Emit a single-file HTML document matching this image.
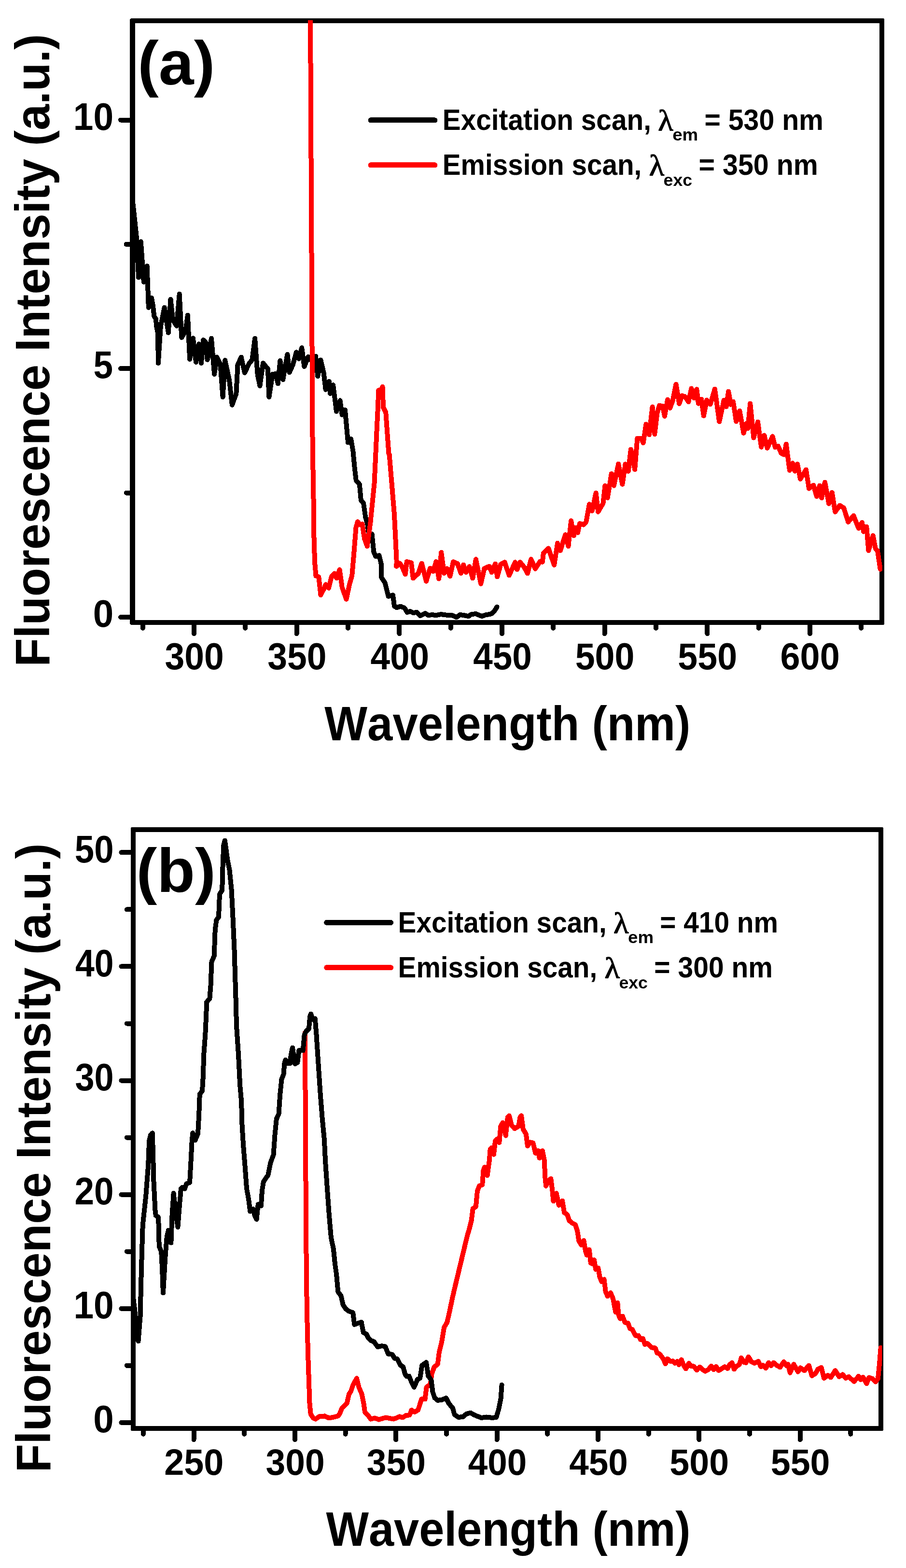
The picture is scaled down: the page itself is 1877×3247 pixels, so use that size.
<!DOCTYPE html>
<html lang="en"><head><meta charset="utf-8"><title>Fluorescence excitation and emission spectra</title>
<style>
html,body{margin:0;padding:0;background:#fff;}
body{width:1877px;height:3247px;overflow:hidden;}
svg{display:block;}
svg text{font-family:"Liberation Sans",sans-serif;font-weight:bold;fill:#000;font-kerning:none;white-space:pre;}
</style></head><body>
<svg width="1877" height="3247" viewBox="0 0 1877 3247">
<rect width="1877" height="3247" fill="#fff"/>
<path d="M271.85 37.75H1829.95L1832.45 40.25V1291.75L1829.95 1294.25H271.85L269.35 1291.75V40.25ZM279.85 48.25V1283.75H1821.95V48.25Z" fill="#000" fill-rule="evenodd" shape-rendering="crispEdges"/>
<g stroke="#000" stroke-width="10" stroke-linecap="round" shape-rendering="crispEdges">
<line x1="402.0" y1="1289" x2="402.0" y2="1312.2"/>
<line x1="614.7" y1="1289" x2="614.7" y2="1312.2"/>
<line x1="827.3" y1="1289" x2="827.3" y2="1312.2"/>
<line x1="1040.0" y1="1289" x2="1040.0" y2="1312.2"/>
<line x1="1252.7" y1="1289" x2="1252.7" y2="1312.2"/>
<line x1="1465.3" y1="1289" x2="1465.3" y2="1312.2"/>
<line x1="1678.0" y1="1289" x2="1678.0" y2="1312.2"/>
<line x1="295.7" y1="1289" x2="295.7" y2="1300.7"/>
<line x1="508.3" y1="1289" x2="508.3" y2="1300.7"/>
<line x1="721.0" y1="1289" x2="721.0" y2="1300.7"/>
<line x1="933.7" y1="1289" x2="933.7" y2="1300.7"/>
<line x1="1146.3" y1="1289" x2="1146.3" y2="1300.7"/>
<line x1="1359.0" y1="1289" x2="1359.0" y2="1300.7"/>
<line x1="1571.7" y1="1289" x2="1571.7" y2="1300.7"/>
<line x1="1784.3" y1="1289" x2="1784.3" y2="1300.7"/>
<line x1="274.6" y1="1278.0" x2="250.1" y2="1278.0"/>
<line x1="274.6" y1="763.2" x2="250.1" y2="763.2"/>
<line x1="274.6" y1="248.5" x2="250.1" y2="248.5"/>
<line x1="274.6" y1="1020.6" x2="261.6" y2="1020.6"/>
<line x1="274.6" y1="505.9" x2="261.6" y2="505.9"/>
</g>
<clipPath id="clipa"><rect x="274.6" y="41.8" width="1553.2" height="1248.2"/></clipPath>
<g clip-path="url(#clipa)" fill="none" stroke-linejoin="round" stroke-linecap="round" shape-rendering="crispEdges">
<polyline points="274.3,410.3 282.8,490.6 287.1,574.6 291.8,500.3 297.8,583.9 304.6,550.7 307.8,636.8 314.0,617.0 316.9,632.7 319.4,655.3 323.1,660.5 323.9,673.9 326.6,688.3 327.4,714.4 327.8,752.1 332.9,675.3 340.6,636.6 348.8,688.9 353.5,619.7 358.3,663.0 365.9,674.9 371.7,608.8 376.2,699.0 384.4,685.6 388.9,652.7 393.1,743.9 399.9,700.4 406.0,750.0 412.2,712.4 417.0,752.1 421.1,704.1 425.6,708.2 429.7,744.9 438.0,700.8 444.1,774.8 449.3,739.5 456.5,754.0 461.6,822.1 466.2,746.1 475.0,786.5 480.8,838.6 489.4,815.3 492.5,755.6 499.7,739.5 506.9,772.1 516.2,752.5 522.4,745.3 528.1,700.8 533.7,776.2 538.4,799.1 545.0,751.9 554.9,763.8 557.4,822.1 564.6,775.0 570.8,774.1 575.9,794.3 580.4,746.8 586.2,786.1 595.4,733.7 599.6,771.4 606.8,755.3 614.0,729.4 619.1,743.0 625.3,720.3 630.4,759.0 638.7,738.8 645.9,747.1 654.1,737.6 658.2,779.2 664.4,745.4 670.6,771.8 674.7,806.8 681.9,789.7 684.0,815.0 690.2,797.3 697.0,852.1 704.6,829.4 708.7,858.9 714.9,848.8 718.4,887.1 721.0,916.5 727.2,909.1 731.5,935.0 734.6,967.9 737.7,994.7 744.9,1003.0 747.9,1035.9 753.1,1042.1 757.2,1070.9 761.3,1085.3 764.4,1108.0 770.6,1105.9 774.3,1143.0 778.4,1152.2 785.4,1150.2 790.2,1169.7 790.3,1195.9 797.5,1206.6 804.7,1235.0 814.0,1232.3 817.1,1255.6 822.2,1258.3 829.4,1255.6 837.7,1258.7 843.8,1268.0 850.0,1265.9 856.2,1269.0 863.4,1268.0 870.6,1275.2 880.9,1270.0 887.1,1274.1 895.3,1273.1 903.5,1274.1 913.8,1272.1 928.2,1274.1 936.5,1274.1 945.8,1278.3 953.0,1273.1 961.2,1274.1 970.5,1276.2 976.6,1272.1 985.9,1271.1 998.3,1276.2 1006.5,1273.1 1014.7,1272.1 1019.9,1270.0 1026.1,1262.8 1029.6,1256.6" stroke="#000" stroke-width="10.0"/>
<polyline points="643.0,30.0 646.1,640.0 647.7,940.0 649.2,1000.0 650.2,1103.0 652.1,1164.7 654.5,1192.5 660.3,1194.6 664.4,1232.3 671.6,1218.3 674.7,1210.4 680.9,1217.8 687.1,1193.5 692.8,1187.4 697.4,1197.3 703.5,1179.5 708.7,1216.2 717.5,1240.9 724.1,1210.0 729.3,1191.5 733.4,1144.1 737.5,1092.7 741.0,1080.3 745.8,1086.5 750.5,1085.2 755.0,1115.3 760.8,1131.4 767.4,1082.4 775.6,1000.0 780.8,887.1 782.8,845.9 784.3,808.2 788.4,810.9 792.5,800.6 794.1,843.8 799.3,854.1 802.4,897.4 805.5,940.0 806.6,941.2 811.8,1003.0 816.9,1064.7 820.0,1126.5 821.7,1163.6 821.2,1172.8 828.4,1166.5 833.9,1175.3 839.7,1189.3 842.8,1163.0 852.1,1165.4 855.8,1197.5 866.5,1187.7 873.7,1166.5 883.0,1203.7 891.2,1176.7 897.4,1183.5 903.5,1163.0 909.3,1198.6 914.2,1143.8 920.0,1187.2 926.2,1177.4 932.4,1193.4 939.0,1163.4 947.8,1167.1 955.0,1187.2 960.2,1169.5 965.3,1185.2 972.5,1173.2 979.3,1197.5 985.9,1158.2 996.2,1208.9 1003.4,1177.4 1013.7,1172.6 1018.8,1185.2 1026.1,1167.5 1030.2,1194.5 1037.4,1168.5 1045.6,1164.4 1054.9,1191.4 1067.2,1164.3 1071.3,1179.3 1077.5,1164.3 1085.7,1174.1 1092.9,1187.5 1100.2,1158.1 1109.0,1177.8 1118.7,1162.8 1123.8,1163.8 1125.9,1145.3 1136.2,1135.4 1148.1,1170.0 1155.1,1124.7 1160.9,1140.2 1171.2,1107.2 1177.4,1131.3 1183.1,1078.4 1188.7,1109.3 1192.8,1092.8 1196.9,1103.1 1201.0,1084.0 1209.3,1086.6 1214.4,1080.5 1221.0,1044.0 1226.8,1057.8 1234.6,1020.7 1239.1,1059.9 1249.4,1042.4 1253.5,1005.7 1258.7,1031.0 1266.8,980.9 1271.9,1005.6 1281.2,960.7 1289.4,1002.7 1295.6,961.3 1301.8,975.8 1306.9,930.5 1315.2,972.3 1320.3,907.8 1328.5,907.8 1332.7,917.1 1338.4,878.4 1345.0,900.2 1351.6,842.5 1356.3,899.0 1361.5,855.3 1366.0,839.9 1372.8,840.9 1376.9,861.9 1383.1,827.5 1388.2,845.0 1393.4,830.6 1400.6,795.6 1407.2,836.2 1413.0,819.3 1419.1,821.3 1426.3,832.2 1432.5,804.4 1438.1,824.4 1443.4,806.3 1446.9,835.7 1453.1,826.5 1457.8,861.1 1464.4,828.5 1471.6,837.2 1480.9,805.5 1490.2,873.2 1499.8,828.5 1504.6,842.5 1509.3,810.6 1513.9,837.8 1519.0,831.6 1525.2,872.8 1532.4,850.8 1540.6,897.0 1546.3,876.8 1549.4,887.1 1554.2,835.6 1561.4,906.6 1570.0,873.7 1577.2,925.8 1583.4,901.5 1589.6,927.8 1600.5,903.5 1606.0,926.2 1612.2,924.1 1618.4,938.5 1624.6,941.6 1628.7,919.6 1635.9,974.0 1642.1,959.1 1646.6,975.6 1652.0,960.8 1658.1,992.1 1669.9,972.5 1676.0,1011.6 1685.3,1004.8 1691.9,1028.1 1698.1,1005.5 1702.2,1031.2 1709.0,998.7 1717.2,1043.1 1723.8,1019.9 1730.2,1060.0 1739.9,1046.6 1748.1,1051.8 1757.2,1080.9 1768.5,1067.9 1778.8,1094.1 1786.0,1081.9 1789.1,1100.9 1795.3,1090.6 1799.4,1140.0 1808.6,1109.1 1813.8,1135.9 1817.9,1140.0 1823.7,1178.7" stroke="#f00" stroke-width="10.0"/>
</g>
<text transform="translate(341.57 1386.20) scale(0.9511 1.0199)" font-size="77">300</text>
<text transform="translate(554.23 1386.20) scale(0.9511 1.0199)" font-size="77">350</text>
<text transform="translate(767.48 1386.20) scale(0.9465 1.0199)" font-size="77">400</text>
<text transform="translate(980.14 1386.20) scale(0.9465 1.0199)" font-size="77">450</text>
<text transform="translate(1191.65 1386.20) scale(0.9557 1.0199)" font-size="77">500</text>
<text transform="translate(1404.31 1386.20) scale(0.9557 1.0199)" font-size="77">550</text>
<text transform="translate(1616.54 1386.20) scale(0.9592 1.0199)" font-size="77">600</text>
<text transform="translate(192.68 1298.20) scale(0.9913 1.0272)" font-size="77">0</text>
<text transform="translate(193.46 783.45) scale(0.9475 1.0272)" font-size="77">5</text>
<text transform="translate(151.78 268.70) scale(0.9724 1.0272)" font-size="77">10</text>
<text transform="translate(672.31 1533.10) scale(0.9603 1.0200)" font-size="98">Wavelength (nm)</text>
<text transform="translate(102.10 1380.69) rotate(-90) scale(0.9903 1.0200)" font-size="98">Fluorescence Intensity (a.u.)</text>
<text transform="translate(285.28 175.00) scale(1.0224 1.0000)" font-size="128">(a)</text>
<text transform="translate(916.80 269.00) scale(0.9461 1.0200)" font-size="60">Excitation scan,</text>
<text transform="translate(1363.28 270.00) scale(1.0673 1.0000)" font-size="61" style="font-family:'Liberation Serif', serif;font-weight:normal;stroke:#000;stroke-width:1.3px;stroke-linejoin:round">λ</text>
<text transform="translate(1393.16 291.00) scale(1.0809 1.0200)" font-size="34">em</text>
<text transform="translate(1459.42 269.00) scale(0.9541 1.0200)" font-size="60">= 530 nm</text>
<text transform="translate(916.81 362.00) scale(0.9445 1.0200)" font-size="60">Emission scan,</text>
<text transform="translate(1344.78 363.00) scale(1.0673 1.0000)" font-size="61" style="font-family:'Liberation Serif', serif;font-weight:normal;stroke:#000;stroke-width:1.3px;stroke-linejoin:round">λ</text>
<text transform="translate(1374.61 384.50) scale(1.0496 1.0200)" font-size="34">exc</text>
<text transform="translate(1447.52 362.00) scale(0.9573 1.0200)" font-size="60">= 350 nm</text>
<line x1="768.1" y1="248.9" x2="900.9" y2="248.9" stroke="#000" stroke-width="11" stroke-linecap="round" shape-rendering="crispEdges"/>
<line x1="768.1" y1="341.8" x2="900.9" y2="341.8" stroke="#f00" stroke-width="11" stroke-linecap="round" shape-rendering="crispEdges"/>
<path d="M273.15 1712.75H1827.85L1830.35 1715.25V2960.75L1827.85 2963.25H273.15L270.65 2960.75V1715.25ZM281.15 1723.25V2952.75H1819.85V1723.25Z" fill="#000" fill-rule="evenodd" shape-rendering="crispEdges"/>
<g stroke="#000" stroke-width="10" stroke-linecap="round" shape-rendering="crispEdges">
<line x1="401.5" y1="2958" x2="401.5" y2="2981.2"/>
<line x1="610.9" y1="2958" x2="610.9" y2="2981.2"/>
<line x1="820.2" y1="2958" x2="820.2" y2="2981.2"/>
<line x1="1029.6" y1="2958" x2="1029.6" y2="2981.2"/>
<line x1="1239.0" y1="2958" x2="1239.0" y2="2981.2"/>
<line x1="1448.4" y1="2958" x2="1448.4" y2="2981.2"/>
<line x1="1657.8" y1="2958" x2="1657.8" y2="2981.2"/>
<line x1="296.8" y1="2958" x2="296.8" y2="2969.7"/>
<line x1="506.2" y1="2958" x2="506.2" y2="2969.7"/>
<line x1="715.6" y1="2958" x2="715.6" y2="2969.7"/>
<line x1="924.9" y1="2958" x2="924.9" y2="2969.7"/>
<line x1="1134.3" y1="2958" x2="1134.3" y2="2969.7"/>
<line x1="1343.7" y1="2958" x2="1343.7" y2="2969.7"/>
<line x1="1553.1" y1="2958" x2="1553.1" y2="2969.7"/>
<line x1="1762.4" y1="2958" x2="1762.4" y2="2969.7"/>
<line x1="275.9" y1="2945.8" x2="251.4" y2="2945.8"/>
<line x1="275.9" y1="2709.7" x2="251.4" y2="2709.7"/>
<line x1="275.9" y1="2473.6" x2="251.4" y2="2473.6"/>
<line x1="275.9" y1="2237.5" x2="251.4" y2="2237.5"/>
<line x1="275.9" y1="2001.4" x2="251.4" y2="2001.4"/>
<line x1="275.9" y1="1765.3" x2="251.4" y2="1765.3"/>
<line x1="275.9" y1="2827.8" x2="262.9" y2="2827.8"/>
<line x1="275.9" y1="2591.7" x2="262.9" y2="2591.7"/>
<line x1="275.9" y1="2355.6" x2="262.9" y2="2355.6"/>
<line x1="275.9" y1="2119.5" x2="262.9" y2="2119.5"/>
<line x1="275.9" y1="1883.4" x2="262.9" y2="1883.4"/>
</g>
<clipPath id="clipb"><rect x="275.9" y="1717" width="1551.5" height="1242.0"/></clipPath>
<g clip-path="url(#clipb)" fill="none" stroke-linejoin="round" stroke-linecap="round" shape-rendering="crispEdges">
<polyline points="632.1,2138.0 632.8,2340.0 634.8,2640.0 636.1,2722.4 638.1,2804.7 640.2,2866.5 641.6,2907.7 643.7,2928.3 648.8,2936.5 654.0,2938.6 661.2,2933.4 672.5,2932.4 681.8,2936.5 692.1,2934.4 700.3,2932.4 704.4,2926.2 708.5,2915.9 718.8,2905.6 723.0,2887.1 727.1,2880.9 731.2,2868.6 739.0,2854.1 743.5,2872.7 749.7,2887.1 753.8,2907.7 755.9,2924.1 762.1,2930.3 768.2,2938.6 776.5,2936.5 784.7,2939.6 799.1,2935.5 815.6,2938.6 828.0,2933.4 834.1,2935.5 840.3,2931.4 848.6,2930.3 852.7,2920.0 858.8,2924.1 866.1,2920.0 873.3,2897.4 880.5,2897.4 883.6,2872.7 891.8,2866.5 894.4,2845.3 899.6,2830.9 906.8,2824.7 909.9,2800.0 915.0,2779.4 920.2,2748.5 926.3,2738.2 931.5,2715.6 936.6,2690.9 941.8,2668.2 967.8,2560.0 972.5,2544.1 976.6,2527.7 979.7,2503.0 985.9,2498.8 989.0,2465.9 993.1,2455.6 999.3,2453.5 1001.3,2424.7 1004.0,2416.9 1009.6,2434.0 1013.7,2404.1 1015.7,2379.4 1018.4,2377.0 1023.0,2390.7 1026.0,2363.0 1030.2,2358.4 1034.3,2366.0 1037.4,2332.1 1041.5,2324.9 1047.7,2351.6 1051.8,2313.5 1054.9,2310.4 1060.0,2330.0 1066.2,2337.2 1074.4,2332.1 1077.5,2313.5 1080.2,2310.4 1083.7,2338.2 1089.9,2348.5 1093.0,2373.2 1098.1,2365.4 1104.3,2366.7 1109.4,2387.7 1114.6,2382.5 1117.7,2398.0 1123.8,2382.9 1128.0,2404.1 1129.0,2435.0 1131.1,2456.0 1136.2,2445.3 1141.3,2440.8 1144.4,2465.9 1146.5,2487.5 1152.7,2471.1 1157.8,2495.8 1165.0,2486.5 1169.1,2511.2 1175.3,2515.3 1179.4,2527.7 1185.6,2532.8 1191.8,2535.9 1195.9,2548.3 1197.9,2559.9 1199.1,2569.0 1204.3,2578.2 1209.4,2569.0 1213.1,2590.6 1215.6,2598.8 1220.7,2587.5 1223.8,2615.3 1227.9,2617.4 1231.0,2609.1 1234.1,2628.7 1239.3,2625.6 1242.4,2644.1 1246.5,2654.4 1251.6,2649.3 1254.7,2675.0 1258.8,2684.3 1265.0,2677.1 1270.2,2689.4 1273.2,2705.9 1275.3,2717.2 1279.4,2697.7 1281.5,2722.4 1284.6,2730.6 1289.7,2725.5 1294.9,2738.8 1301.0,2739.9 1305.2,2751.2 1310.3,2753.3 1316.5,2765.6 1322.7,2765.6 1326.8,2773.9 1331.9,2771.8 1336.0,2784.1 1341.2,2782.1 1349.4,2790.3 1356.6,2791.4 1358.1,2792.2 1361.2,2801.5 1366.3,2803.5 1373.5,2812.8 1378.7,2824.1 1382.8,2813.8 1389.0,2819.0 1394.1,2818.4 1398.2,2823.1 1403.4,2819.0 1406.5,2826.2 1411.6,2815.5 1416.8,2828.2 1420.9,2834.4 1427.1,2823.1 1432.2,2829.3 1437.4,2829.3 1443.5,2837.5 1449.7,2830.7 1454.9,2835.5 1461.0,2839.6 1467.2,2836.5 1473.4,2828.7 1478.5,2836.5 1483.7,2829.9 1488.8,2838.1 1495.0,2834.4 1501.2,2830.3 1507.4,2834.0 1511.5,2826.2 1516.6,2821.7 1520.8,2835.5 1525.9,2829.3 1532.1,2825.2 1535.8,2811.8 1541.3,2821.0 1545.5,2822.1 1550.6,2809.7 1556.8,2820.0 1563.0,2823.1 1571.2,2819.0 1576.3,2830.3 1580.5,2827.2 1586.6,2833.4 1592.4,2821.7 1597.6,2828.2 1602.7,2821.7 1608.9,2827.2 1616.1,2831.3 1623.9,2820.0 1629.5,2828.2 1632.6,2825.2 1636.7,2842.7 1644.5,2825.2 1653.2,2840.6 1658.3,2832.4 1666.6,2838.5 1670.7,2833.4 1675.8,2827.8 1682.0,2848.8 1689.2,2844.7 1694.4,2835.5 1701.6,2832.0 1707.1,2854.0 1715.0,2847.8 1721.1,2852.5 1730.4,2838.1 1738.6,2850.9 1745.8,2846.4 1752.0,2854.0 1758.2,2850.9 1769.5,2860.8 1778.8,2849.9 1782.9,2857.1 1788.1,2851.9 1795.3,2865.3 1800.4,2852.5 1807.6,2855.0 1813.8,2861.6 1818.9,2855.0 1822.0,2824.1 1824.7,2790.6" stroke="#f00" stroke-width="10.0"/>
<polyline points="275.8,2684.1 286.5,2777.4 290.6,2725.3 292.0,2663.5 293.7,2601.8 295.7,2537.4 302.3,2475.6 307.1,2413.8 309.1,2362.4 312.2,2350.0 315.7,2346.3 316.9,2383.0 318.4,2444.7 321.5,2506.5 322.7,2516.8 327.7,2519.9 328.9,2540.1 329.7,2581.2 334.2,2591.5 336.3,2632.7 337.9,2677.5 342.5,2601.8 345.8,2560.6 348.9,2547.6 354.4,2573.6 356.5,2516.8 359.6,2470.9 363.7,2506.5 368.4,2541.1 371.9,2496.2 375.0,2461.2 378.1,2458.7 382.8,2461.6 386.3,2451.3 393.1,2448.8 395.6,2403.5 397.7,2362.4 399.3,2346.3 404.2,2361.3 410.0,2347.9 412.1,2310.9 413.8,2265.6 419.0,2259.4 421.0,2226.5 422.1,2185.3 425.2,2144.1 427.2,2103.0 428.2,2075.2 434.4,2067.9 436.5,2041.2 438.5,1991.8 443.7,1979.4 445.7,1925.9 448.4,1905.3 453.0,1899.1 455.0,1851.8 460.2,1843.5 461.6,1792.1 463.2,1750.9 465.9,1740.6 471.5,1781.8 475.6,1802.4 479.7,1843.5 482.8,1905.3 485.5,1967.1 487.1,2020.0 488.4,2061.8 490.0,2123.5 494.1,2185.3 497.2,2247.1 500.1,2280.0 501.6,2331.5 504.2,2372.7 507.5,2413.8 511.0,2461.2 515.2,2483.8 518.2,2508.6 524.4,2503.4 527.5,2516.8 531.6,2525.0 534.7,2494.1 540.9,2497.2 543.0,2465.3 546.0,2446.8 555.3,2433.4 560.5,2407.7 566.6,2391.2 569.7,2347.9 572.8,2317.1 577.5,2306.8 580.3,2265.9 583.4,2235.0 587.5,2224.7 589.6,2200.0 591.6,2194.9 596.8,2202.1 600.9,2202.1 603.0,2183.5 606.0,2169.5 611.2,2203.1 616.3,2200.0 619.4,2175.3 627.7,2175.3 630.7,2142.4 633.8,2136.2 640.0,2130.0 642.1,2105.3 644.1,2099.5 648.2,2111.5 652.8,2109.4 655.5,2142.4 659.6,2204.1 663.7,2265.9 667.8,2317.4 671.9,2360.0 673.9,2401.8 678.1,2463.5 681.8,2515.0 685.9,2562.4 691.0,2587.1 694.1,2618.0 697.2,2640.0 700.3,2675.0 706.5,2683.2 710.6,2701.8 716.8,2711.0 723.0,2715.2 731.2,2718.2 734.3,2743.0 739.4,2740.9 748.7,2737.8 752.8,2759.4 759.0,2762.5 763.1,2770.7 768.2,2775.9 774.4,2778.0 782.7,2789.3 790.9,2787.2 798.1,2788.2 804.3,2803.7 812.5,2804.7 817.7,2813.0 822.8,2814.0 830.0,2827.4 835.2,2830.5 839.3,2845.9 842.4,2850.0 847.5,2849.6 852.7,2862.4 857.8,2872.7 865.0,2856.2 870.2,2854.1 874.3,2827.4 883.1,2821.2 887.2,2849.4 893.4,2857.7 896.5,2882.4 900.6,2894.7 906.8,2899.9 915.0,2898.8 924.3,2895.1 930.4,2907.1 937.7,2915.3 941.8,2929.7 950.0,2934.9 959.3,2933.9 966.5,2927.7 974.7,2925.6 981.9,2929.7 989.1,2932.8 997.4,2935.9 1007.7,2934.5 1020.0,2935.9 1028.2,2934.9 1033.4,2917.4 1037.5,2896.8 1039.6,2868.0" stroke="#000" stroke-width="10.0"/>
</g>
<text transform="translate(340.19 3053.90) scale(0.9581 0.9979)" font-size="77">250</text>
<text transform="translate(550.44 3053.90) scale(0.9511 0.9979)" font-size="77">300</text>
<text transform="translate(759.82 3053.90) scale(0.9511 0.9979)" font-size="77">350</text>
<text transform="translate(969.77 3053.90) scale(0.9465 0.9979)" font-size="77">400</text>
<text transform="translate(1179.15 3053.90) scale(0.9465 0.9979)" font-size="77">450</text>
<text transform="translate(1387.36 3053.90) scale(0.9557 0.9979)" font-size="77">500</text>
<text transform="translate(1596.74 3053.90) scale(0.9557 0.9979)" font-size="77">550</text>
<text transform="translate(193.28 2966.00) scale(0.9913 1.0272)" font-size="77">0</text>
<text transform="translate(152.38 2729.90) scale(0.9724 1.0272)" font-size="77">10</text>
<text transform="translate(154.58 2493.80) scale(0.9459 1.0272)" font-size="77">20</text>
<text transform="translate(155.45 2257.70) scale(0.9353 1.0272)" font-size="77">30</text>
<text transform="translate(156.02 2021.60) scale(0.9284 1.0272)" font-size="77">40</text>
<text transform="translate(154.87 1785.50) scale(0.9423 1.0272)" font-size="77">50</text>
<text transform="translate(675.41 3201.30) scale(0.9567 1.0200)" font-size="98">Wavelength (nm)</text>
<text transform="translate(104.00 3049.36) rotate(-90) scale(0.9847 1.0200)" font-size="98">Fluorescence Intensity (a.u.)</text>
<text transform="translate(282.49 1847.00) scale(1.0054 1.0000)" font-size="128">(b)</text>
<text transform="translate(824.60 1931.30) scale(0.9461 1.0200)" font-size="60">Excitation scan,</text>
<text transform="translate(1271.08 1932.30) scale(1.0673 1.0000)" font-size="61" style="font-family:'Liberation Serif', serif;font-weight:normal;stroke:#000;stroke-width:1.3px;stroke-linejoin:round">λ</text>
<text transform="translate(1300.96 1953.30) scale(1.0809 1.0200)" font-size="34">em</text>
<text transform="translate(1367.24 1931.30) scale(0.9474 1.0200)" font-size="60">= 410 nm</text>
<text transform="translate(824.61 2024.30) scale(0.9445 1.0200)" font-size="60">Emission scan,</text>
<text transform="translate(1252.58 2025.30) scale(1.0673 1.0000)" font-size="61" style="font-family:'Liberation Serif', serif;font-weight:normal;stroke:#000;stroke-width:1.3px;stroke-linejoin:round">λ</text>
<text transform="translate(1282.41 2046.80) scale(1.0496 1.0200)" font-size="34">exc</text>
<text transform="translate(1355.33 2024.30) scale(0.9505 1.0200)" font-size="60">= 300 nm</text>
<line x1="676.8" y1="1910.4" x2="809.6" y2="1910.4" stroke="#000" stroke-width="11" stroke-linecap="round" shape-rendering="crispEdges"/>
<line x1="676.8" y1="2003.7" x2="809.6" y2="2003.7" stroke="#f00" stroke-width="11" stroke-linecap="round" shape-rendering="crispEdges"/>
</svg>
</body></html>
